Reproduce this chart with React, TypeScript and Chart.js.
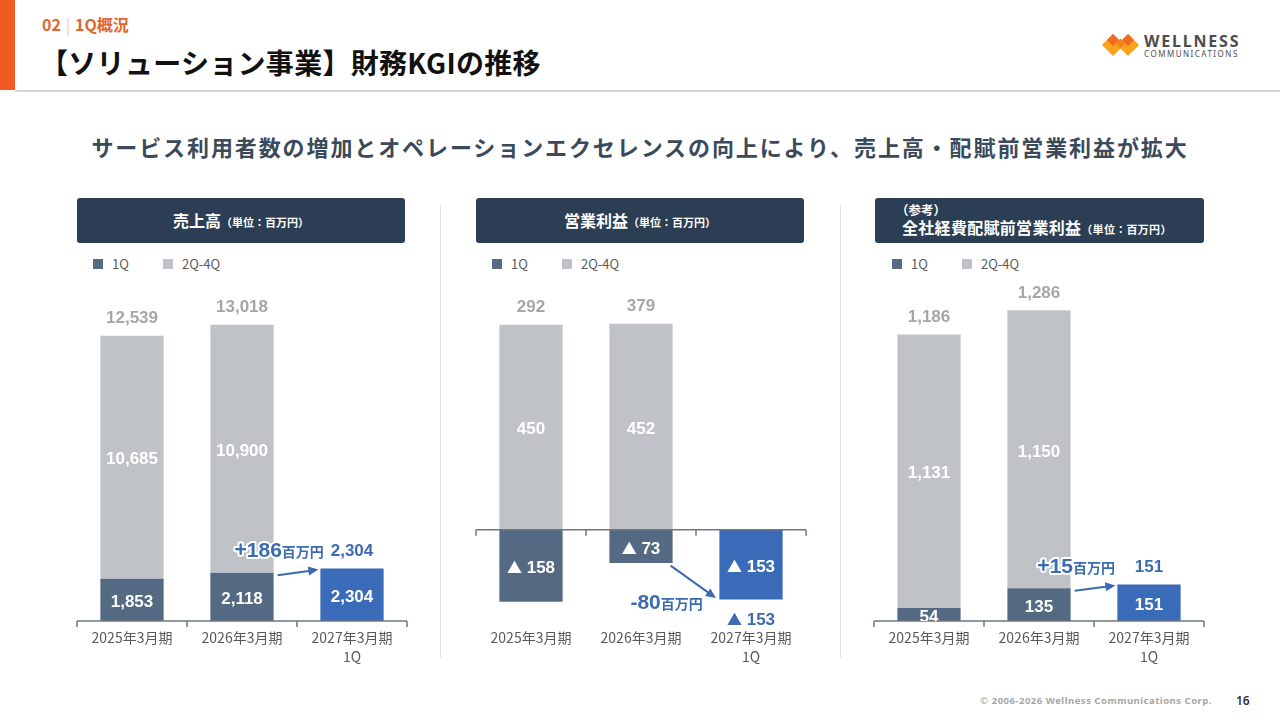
import React, { useEffect, useRef } from "react";
import { Chart, registerables } from "chart.js";

Chart.register(...registerables);

// ---------- data ----------
const categories: (string | string[])[] = ["2025年3月期", "2026年3月期", ["2027年3月期", "1Q"]];
const seriesNames = ["1Q", "2Q-4Q"];

const salesQ1 = [1853, 2118, 2304];
const salesRest = [10685, 10900, null];
const salesTotals = [12539, 13018, 2304];
const salesDelta = 186;

const profitQ1 = [-158, -73, -153];
const profitRest = [450, 452, null];
const profitTotals = [292, 379, -153];
const profitDelta = -80;

const preAllocQ1 = [54, 135, 151];
const preAllocRest = [1131, 1150, null];
const preAllocTotals = [1186, 1286, 151];
const preAllocDelta = 15;

const deltaUnit = "百万円";

// ---------- styles ----------
const CJK = '"Noto Sans CJK JP", "Noto Sans", sans-serif';
const NUM = '"Liberation Sans", Arial, "DejaVu Sans", sans-serif';
const C_Q1 = "#546A82";
const C_REST = "#BFC3C7";
const C_NOW = "#3A6BB8";
const C_BLUE = "#3D6BB0";
const C_TOTAL = "#A6A6A6";
const C_AXIS = "#6E7782";
const C_NAVY = "#2C3E53";

const fmtAbs = (v: number) => Math.abs(v).toLocaleString("en-US");

// draw a value label centred at (cx, cy); negatives shown as "▲ n"
function drawValue(ctx: CanvasRenderingContext2D, v: number, cx: number, cy: number, color: string) {
  const parts: { t: string; f: string }[] =
    v < 0
      ? [
          { t: "▲", f: `bold 15px ${CJK}` },
          { t: " " + fmtAbs(v), f: `bold 17px ${NUM}` },
        ]
      : [{ t: fmtAbs(v), f: `bold 17px ${NUM}` }];
  let tw = 0;
  const ws = parts.map((p) => {
    ctx.font = p.f;
    const w = ctx.measureText(p.t).width;
    tw += w;
    return w;
  });
  let x = cx - tw / 2;
  ctx.textAlign = "left";
  ctx.textBaseline = "alphabetic";
  ctx.fillStyle = color;
  parts.forEach((p, k) => {
    ctx.font = p.f;
    ctx.fillText(p.t, x, cy + 6.2);
    x += ws[k];
  });
}

type Props = {
  left: number;
  q1: number[];
  rest: (number | null)[];
  totals: number[];
  delta: number;
  min: number;
  max: number;
};

function KgiChart({ left, q1, rest, totals, delta, min, max }: Props) {
  const ref = useRef<HTMLCanvasElement>(null);
  useEffect(() => {
    const canvas = ref.current!;
    const marks = {
      id: "slideMarks",
      afterDatasetsDraw(chart: any) {
        const { ctx, chartArea, scales } = chart;
        const xs = scales.x;
        const ys = scales.y;
        const zeroY = ys.getPixelForValue(0);
        const n = chart.data.labels.length;
        const step = xs.getPixelForValue(1) - xs.getPixelForValue(0);
        ctx.save();
        // zero axis with ticks
        ctx.strokeStyle = C_AXIS;
        ctx.lineWidth = 1.5;
        ctx.beginPath();
        ctx.moveTo(chartArea.left, zeroY);
        ctx.lineTo(chartArea.right, zeroY);
        for (let i = 0; i <= n; i++) {
          const px = xs.getPixelForValue(0) - step / 2 + i * step;
          ctx.moveTo(px, zeroY);
          ctx.lineTo(px, zeroY + 6);
        }
        ctx.stroke();

        const m0 = chart.getDatasetMeta(0);
        const m1 = chart.getDatasetMeta(1);
        // segment labels
        ctx.save();
        ctx.beginPath();
        ctx.rect(chartArea.left, chartArea.top, chartArea.right - chartArea.left, chartArea.bottom - chartArea.top);
        ctx.clip();
        [m0, m1].forEach((meta: any, di: number) => {
          const data = chart.data.datasets[di].data;
          meta.data.forEach((el: any, i: number) => {
            const v = data[i];
            if (v === null || v === undefined) return;
            drawValue(ctx, v, el.x, (el.y + el.base) / 2 + 1, "#FFFFFF");
          });
        });
        ctx.restore();

        // totals
        for (let i = 0; i < n; i++) {
          if (rest[i] !== null && rest[i] !== undefined) {
            const el = m1.data[i];
            drawValue(ctx, totals[i], el.x, el.y - 19, C_TOTAL);
          } else {
            const el = m0.data[i];
            const yy = totals[i] >= 0 ? el.y - 19 : el.y + 19;
            drawValue(ctx, totals[i], el.x, yy, C_BLUE);
          }
        }

        // arrow between last two 1Q bars
        const e2 = m0.data[n - 2];
        const e3 = m0.data[n - 1];
        const neg = q1[n - 1] < 0;
        const sx = e2.x + e2.width / 2 + (neg ? -2 : 4);
        const sy = e2.y + 2.5;
        const ex = e3.x - e3.width / 2 - (neg ? 3.5 : 2);
        const ey = e3.y + (neg ? -1.5 : 1);
        const ang = Math.atan2(ey - sy, ex - sx);
        const hl = 10;
        const hw = 4.5;
        ctx.strokeStyle = C_BLUE;
        ctx.fillStyle = C_BLUE;
        ctx.lineWidth = 2;
        ctx.beginPath();
        ctx.moveTo(sx, sy);
        ctx.lineTo(ex - Math.cos(ang) * hl * 0.8, ey - Math.sin(ang) * hl * 0.8);
        ctx.stroke();
        ctx.beginPath();
        ctx.moveTo(ex, ey);
        ctx.lineTo(
          ex - Math.cos(ang) * hl + Math.sin(ang) * hw,
          ey - Math.sin(ang) * hl - Math.cos(ang) * hw
        );
        ctx.lineTo(
          ex - Math.cos(ang) * hl - Math.sin(ang) * hw,
          ey - Math.sin(ang) * hl + Math.cos(ang) * hw
        );
        ctx.closePath();
        ctx.fill();

        // delta text
        const parts: { t: string; f: string }[] =
          delta >= 0
            ? [
                { t: "+", f: `bold 21px ${CJK}` },
                { t: String(delta), f: `bold 21px ${NUM}` },
                { t: deltaUnit, f: `bold 14px ${CJK}` },
              ]
            : [
                { t: "-" + Math.abs(delta), f: `bold 21px ${NUM}` },
                { t: deltaUnit, f: `bold 14px ${CJK}` },
              ];
        let tw = 0;
        const widths = parts.map((p) => {
          ctx.font = p.f;
          const w = ctx.measureText(p.t).width;
          tw += w;
          return w;
        });
        const cx = delta >= 0 ? sx + 1.5 : sx - 4;
        const cy = delta >= 0 ? e3.y - 19 : ey + 3;
        const base = cy + 7.5;
        let px = cx - tw / 2;
        ctx.textAlign = "left";
        ctx.textBaseline = "alphabetic";
        ctx.lineJoin = "round";
        parts.forEach((p, k) => {
          ctx.font = p.f;
          ctx.strokeStyle = "#FFFFFF";
          ctx.lineWidth = 4;
          ctx.strokeText(p.t, px, base);
          ctx.fillStyle = C_BLUE;
          ctx.fillText(p.t, px, base);
          px += widths[k];
        });
        ctx.restore();
      },
    };

    const chart = new Chart(canvas, {
      type: "bar",
      data: {
        labels: categories as any,
        datasets: [
          {
            label: seriesNames[0],
            data: q1,
            backgroundColor: q1.map((_, i) => (i === q1.length - 1 ? C_NOW : C_Q1)),
            stack: "s",
            barPercentage: 0.575,
            categoryPercentage: 1,
          },
          {
            label: seriesNames[1],
            data: rest as any,
            backgroundColor: C_REST,
            stack: "s",
            barPercentage: 0.575,
            categoryPercentage: 1,
          },
        ],
      },
      options: {
        responsive: false,
        maintainAspectRatio: false,
        animation: false,
        layout: { padding: { left: 10, right: 10, top: 10, bottom: 7.6 } },
        plugins: { legend: { display: false }, tooltip: { enabled: false } },
        scales: {
          x: {
            stacked: true,
            grid: { display: false, drawTicks: false },
            border: { display: false },
            ticks: {
              color: "#595959",
              font: { family: CJK, size: 14, lineHeight: 1.3 },
              padding: 8,
              maxRotation: 0,
              autoSkip: false,
            },
          },
          y: { stacked: true, display: false, min, max },
        },
      },
      plugins: [marks],
    });
    return () => chart.destroy();
  }, []);
  return (
    <canvas
      ref={ref}
      width={350}
      height={400}
      style={{ position: "absolute", left: left - 10, top: 281, width: 350, height: 400 }}
    />
  );
}

function Legend({ left }: { left: number }) {
  const item = (color: string, text: string, x: number) => (
    <>
      <div style={{ position: "absolute", left: x, top: 259, width: 10, height: 10, background: color }} />
      <div
        style={{
          position: "absolute",
          left: x + 19,
          top: 255,
          height: 18,
          lineHeight: "18px",
          fontSize: 13,
          fontFamily: CJK,
          color: "#595959",
          whiteSpace: "nowrap",
        }}
      >
        {text}
      </div>
    </>
  );
  return (
    <>
      {item(C_Q1, seriesNames[0], left + 16)}
      {item(C_REST, seriesNames[1], left + 86)}
    </>
  );
}

function Header({ left, width, children, align = "center" }: any) {
  return (
    <div
      style={{
        position: "absolute",
        left,
        top: 198,
        width,
        height: 45,
        background: C_NAVY,
        borderRadius: 3,
        color: "#FFFFFF",
        fontFamily: CJK,
        fontWeight: 700,
        display: "flex",
        flexDirection: "column",
        justifyContent: "center",
        alignItems: align === "center" ? "center" : "flex-start",
        boxSizing: "border-box",
        paddingLeft: align === "center" ? 0 : 27,
      }}
    >
      {children}
    </div>
  );
}

const unitSpan = <span style={{ fontSize: 11, fontWeight: 700 }}>（単位：百万円）</span>;

export default function App() {
  return (
    <div
      style={{
        position: "absolute",
        left: 0,
        top: 0,
        width: 1280,
        height: 720,
        background: "#FFFFFF",
        overflow: "hidden",
        fontFamily: CJK,
      }}
    >
      {/* top decoration */}
      <div style={{ position: "absolute", left: 0, top: 0, width: 15, height: 90, background: "#F15A22" }} />
      <div style={{ position: "absolute", left: 15, top: 89.5, width: 1265, height: 2.5, background: "#D6D6D6" }} />
      <div
        style={{
          position: "absolute",
          left: 42,
          top: 13,
          height: 22,
          lineHeight: "22px",
          fontSize: 16,
          fontWeight: 700,
          color: "#E0652E",
          whiteSpace: "nowrap",
        }}
      >
        02<span style={{ color: "#E9B39A", fontWeight: 300, margin: "0 5px" }}>|</span>1Q概況
      </div>
      <div
        style={{
          position: "absolute",
          left: 40,
          top: 43,
          height: 38,
          lineHeight: "38px",
          fontSize: 28,
          fontWeight: 700,
          letterSpacing: 0.3,
          color: "#111111",
          whiteSpace: "nowrap",
        }}
      >
        【ソリューション事業】財務KGIの推移
      </div>

      {/* logo */}
      <svg style={{ position: "absolute", left: 1100, top: 32 }} width={42} height={26} viewBox="0 0 42 26">
        <polygon points="2,13 13,2 24,13 13,24" fill="#F9A21B" />
        <polygon points="17,13 28,2 39,13 28,24" fill="#F9A21B" />
        <polygon points="7,8 13,2 19,8 13,14" fill="#F26A21" />
        <polygon points="22,8 28,2 34,8 28,14" fill="#F26A21" />
        <polygon points="15.5,11.5 20.5,6.5 25.5,11.5 20.5,16.5" fill="#F58220" />
      </svg>
      <div
        style={{
          position: "absolute",
          left: 1144,
          top: 31,
          height: 20,
          lineHeight: "20px",
          fontSize: 16,
          fontWeight: 700,
          letterSpacing: 1.8,
          color: "#4D4D4D",
          fontFamily: '"Noto Sans", sans-serif',
        }}
      >
        WELLNESS
      </div>
      <div
        style={{
          position: "absolute",
          left: 1144,
          top: 49,
          height: 10,
          lineHeight: "10px",
          fontSize: 8,
          letterSpacing: 1.5,
          color: "#4D4D4D",
          fontFamily: '"Noto Sans", sans-serif',
        }}
      >
        COMMUNICATIONS
      </div>

      {/* subtitle */}
      <div
        style={{
          position: "absolute",
          left: 0,
          top: 130,
          width: 1280,
          height: 32,
          lineHeight: "32px",
          textAlign: "center",
          fontSize: 22,
          fontWeight: 700,
          letterSpacing: 1.9,
          color: "#3B4A5A",
          whiteSpace: "nowrap",
        }}
      >
        サービス利用者数の増加とオペレーションエクセレンスの向上により、売上高・配賦前営業利益が拡大
      </div>

      {/* headers */}
      <Header left={77} width={328}>
        <div style={{ fontSize: 16, lineHeight: "20px" }}>
          売上高{unitSpan}
        </div>
      </Header>
      <Header left={476} width={328}>
        <div style={{ fontSize: 16, lineHeight: "20px" }}>
          営業利益{unitSpan}
        </div>
      </Header>
      <Header left={875} width={329} align="left">
        <div style={{ fontSize: 12.5, lineHeight: "15px", marginLeft: -6 }}>（参考）</div>
        <div style={{ fontSize: 16, lineHeight: "20px", letterSpacing: 0.3 }}>
          全社経費配賦前営業利益{unitSpan}
        </div>
      </Header>

      <Legend left={77} />
      <Legend left={476} />
      <Legend left={876} />

      {/* separators */}
      <div style={{ position: "absolute", left: 440, top: 205, width: 1, height: 453, background: "#E2E2E2" }} />
      <div style={{ position: "absolute", left: 840, top: 205, width: 1, height: 453, background: "#E2E2E2" }} />

      <KgiChart left={77} q1={salesQ1} rest={salesRest} totals={salesTotals} delta={salesDelta} min={0} max={14500} />
      <KgiChart left={476} q1={profitQ1} rest={profitRest} totals={profitTotals} delta={profitDelta} min={-200} max={524} />
      <KgiChart left={874} q1={preAllocQ1} rest={preAllocRest} totals={preAllocTotals} delta={preAllocDelta} min={0} max={1365} />

      {/* footer */}
      <div
        style={{
          position: "absolute",
          right: 68,
          top: 693,
          height: 16,
          lineHeight: "16px",
          fontSize: 9.5,
          fontWeight: 700,
          letterSpacing: 0.5,
          color: "#A6A6A6",
          fontFamily: '"Noto Sans", sans-serif',
          whiteSpace: "nowrap",
        }}
      >
        © 2006-2026 Wellness Communications Corp.
      </div>
      <div
        style={{
          position: "absolute",
          left: 1236,
          top: 692,
          height: 18,
          lineHeight: "18px",
          fontSize: 12,
          fontWeight: 600,
          color: "#333333",
          fontFamily: '"Noto Sans", sans-serif',
        }}
      >
        16
      </div>
    </div>
  );
}
